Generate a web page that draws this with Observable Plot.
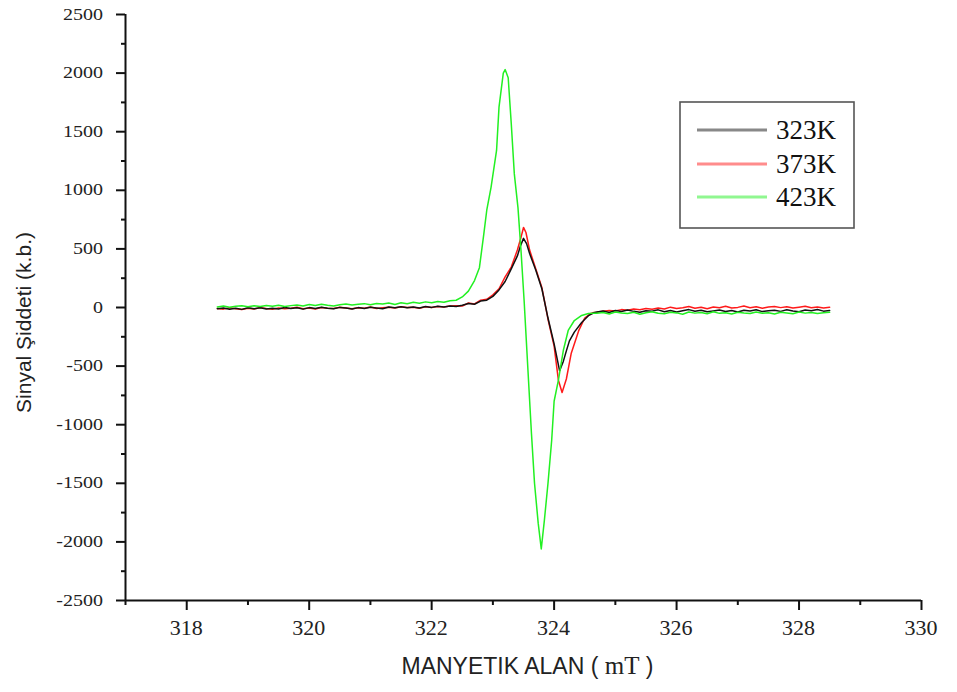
<!DOCTYPE html>
<html>
<head>
<meta charset="utf-8">
<script src="https://cdn.jsdelivr.net/npm/d3@7"></script>
<script src="https://cdn.jsdelivr.net/npm/@observablehq/plot@0.6"></script>
<style>
  body { margin: 0; background: #fff; }
  #chart { width: 957px; height: 692px; }
</style>
</head>
<body>
<div id="chart"></div>
<script>
// ESR spectra at three temperatures: signal intensity (a.u.) vs magnetic field (mT)
const seriesNames = ["323K", "373K", "423K"];
const seriesColors = ["#111111", "#ff1a1a", "#22f022"];

const xTicks = [318, 320, 322, 324, 326, 328, 330];
const xMinorTicks = [317, 319, 321, 323, 325, 327, 329];
const yTicks = [-2500, -2000, -1500, -1000, -500, 0, 500, 1000, 1500, 2000, 2500];
const yMinorTicks = [-2250, -1750, -1250, -750, -250, 250, 750, 1250, 1750, 2250];

// shared field samples of the flat regions either side of the resonance
const baseFieldLeft = [318.5, 318.6, 318.7, 318.8, 318.9, 319.0, 319.1, 319.2, 319.3, 319.4,
  319.5, 319.6, 319.7, 319.8, 319.9, 320.0, 320.1, 320.2, 320.3, 320.4,
  320.5, 320.6, 320.7, 320.8, 320.9, 321.0, 321.1, 321.2, 321.3, 321.4,
  321.5, 321.6, 321.7, 321.8, 321.9, 322.0, 322.1, 322.2, 322.3, 322.4];
const baseFieldRight = [324.7, 324.8, 324.9, 325.0, 325.1, 325.2, 325.3, 325.4, 325.5, 325.6,
  325.7, 325.8, 325.9, 326.0, 326.1, 326.2, 326.3, 326.4, 326.5, 326.6,
  326.7, 326.8, 326.9, 327.0, 327.1, 327.2, 327.3, 327.4, 327.5, 327.6,
  327.7, 327.8, 327.9, 328.0, 328.1, 328.2, 328.3, 328.4, 328.5];

// 323K
const left323 = [-10, -4, -14, -6, -16, -3, -11, -2, -13, -7, -12, 0, -9, -3, -14, -1, -8, 2, -6, -11,
  1, -5, -12, -1, -8, 3, -4, -10, 4, -2, 6, -3, 5, -5, 8, 1, 10, 4, 13, 9];
const peakField323 = [322.5, 322.6, 322.7, 322.8, 322.9, 323.0, 323.1, 323.2, 323.3, 323.4, 323.45, 323.5,
  323.55, 323.6, 323.7, 323.8, 323.9, 324.0, 324.09, 324.15, 324.2, 324.25, 324.33, 324.45, 324.56, 324.65];
const peakSignal323 = [20, 34, 28, 55, 62, 95, 150, 222, 330, 440, 525, 590,
  545, 460, 320, 160, -90, -310, -540, -460, -370, -285, -210, -128, -70, -45];
const right323 = [-38, -30, -42, -26, -35, -22, -33, -40, -27, -31, -20, -36, -25, -38, -28, -18, -32, -24, -37, -29,
  -21, -34, -26, -39, -23, -30, -19, -35, -27, -24, -33, -20, -29, -36, -22, -28, -17, -31, -25];

// 373K
const left373 = [-8, -14, -3, -10, -17, -6, -12, -1, -9, -15, -4, -11, -7, 2, -10, -5, -13, 0, -6, -9,
  3, -4, -11, -2, -7, 4, -8, -3, 2, -5, 6, -1, 3, -6, 7, 0, 9, 5, 12, 15];
const peakField373 = [322.5, 322.6, 322.7, 322.8, 322.9, 323.0, 323.1, 323.2, 323.3, 323.4, 323.46, 323.5,
  323.54, 323.6, 323.7, 323.8, 323.9, 324.0, 324.07, 324.13, 324.2, 324.28, 324.4, 324.5, 324.6, 324.65];
const peakSignal373 = [12, 38, 30, 62, 70, 108, 160, 262, 345, 490, 600, 683,
  640, 490, 330, 170, -100, -330, -620, -725, -610, -390, -200, -90, -50, -42];
const right373 = [-40, -32, -25, -30, -18, -24, -12, -20, -8, -15, -5, -12, 3, -9, -2, 8, -6, 2, -10, 5,
  -3, 10, -4, 1, 12, -2, 6, -7, 4, 9, -1, 7, -5, 3, 11, -2, 5, -4, 2];

// 423K
const left423 = [5, 12, 3, 10, 15, 6, 14, 9, 18, 11, 20, 8, 16, 22, 13, 25, 17, 28, 19, 12,
  24, 30, 21, 27, 33, 23, 35, 29, 38, 26, 40, 32, 44, 36, 48, 41, 52, 45, 58, 62];
const peakField423 = [322.5, 322.6, 322.7, 322.78, 322.85, 322.9, 322.97, 323.06, 323.1, 323.17, 323.2, 323.25,
  323.3, 323.35, 323.41, 323.46, 323.51, 323.57, 323.63, 323.68, 323.74, 323.79, 323.84, 323.9, 323.96,
  324.0, 324.07, 324.15, 324.23, 324.33, 324.45, 324.56, 324.65];
const peakSignal423 = [90, 140, 230, 340, 620, 830, 1025, 1340, 1710, 2000, 2030, 1960,
  1570, 1140, 850, 480, 60, -510, -1075, -1500, -1840, -2060, -1820, -1500, -1135,
  -800, -620, -367, -196, -111, -68, -52, -48];
const right423 = [-50, -42, -55, -38, -47, -52, -40, -58, -44, -36, -49, -53, -41, -46, -57, -39, -48, -43, -54, -37,
  -50, -45, -56, -40, -47, -52, -38, -49, -44, -55, -41, -46, -53, -39, -48, -42, -51, -45, -40];

const yLabel = "Sinyal Şiddeti (k.b.)";
const xLabel = "MANYETIK ALAN ( mT )";

function seriesRows(name, left, peakField, peakSignal, right) {
  const out = [];
  baseFieldLeft.forEach((f, i) => out.push({series: name, field: f, signal: left[i]}));
  peakField.forEach((f, i) => out.push({series: name, field: f, signal: peakSignal[i]}));
  baseFieldRight.forEach((f, i) => out.push({series: name, field: f, signal: right[i]}));
  return out;
}

// drawing order: 373K, 323K, then 423K on top
const rows = [
  ...seriesRows("373K", left373, peakField373, peakSignal373, right373),
  ...seriesRows("323K", left323, peakField323, peakSignal323, right323),
  ...seriesRows("423K", left423, peakField423, peakSignal423, right423)
];

const serif = "Liberation Serif, Times New Roman, serif";
const sans = "Liberation Sans, Arial, sans-serif";

const plot = Plot.plot({
  width: 957,
  height: 692,
  marginLeft: 125,
  marginRight: 36,
  marginTop: 14,
  marginBottom: 92,
  style: {background: "#fff", color: "#111", overflow: "visible"},
  x: {domain: [317, 330]},
  y: {domain: [-2500, 2500]},
  color: {domain: seriesNames, range: seriesColors},
  marks: [
    Plot.line(rows, {x: "field", y: "signal", z: "series", stroke: "series", strokeWidth: 1.5, curve: "linear"}),
    Plot.ruleX([317], {stroke: "#111", strokeWidth: 2}),
    Plot.ruleY([-2500], {stroke: "#111", strokeWidth: 2}),
    // tick marks; the labels are set in serif below
    Plot.axisX({ticks: xTicks, tickSize: 10, strokeWidth: 2, label: null, tickFormat: () => ""}),
    Plot.axisX({ticks: xMinorTicks, tickSize: 5, strokeWidth: 2, label: null, tickFormat: () => ""}),
    Plot.axisY({ticks: yTicks, tickSize: 9, strokeWidth: 2, label: null, tickFormat: () => ""}),
    Plot.axisY({ticks: yMinorTicks, tickSize: 4, strokeWidth: 2, label: null, tickFormat: () => ""}),
    // axis titles
    Plot.text([xLabel], {text: d => d, frameAnchor: "bottom", lineAnchor: "middle", textAnchor: "middle",
      dx: 4, dy: 66, fontSize: 23, fill: "#222"}),
    Plot.text([yLabel], {text: d => d, frameAnchor: "left", lineAnchor: "middle", textAnchor: "middle",
      rotate: -90, dx: -101, dy: 15, fontSize: 21, fill: "#222"})
  ]
});

const svg = d3.select(plot);
const xScale = plot.scale("x");
const yScale = plot.scale("y");

// serif tick labels placed with the plot's own scales
const tickLabels = svg.append("g").attr("class", "tick-labels")
  .attr("font-family", serif).attr("fill", "#222");
xTicks.forEach(v => {
  tickLabels.append("text")
    .attr("x", xScale.apply(v)).attr("y", 635)
    .attr("text-anchor", "middle").attr("font-size", 22)
    .text(String(v));
});
yTicks.forEach(v => {
  tickLabels.append("text")
    .attr("transform", `translate(103,${yScale.apply(v) + 5.5}) scale(1.25,1)`)
    .attr("text-anchor", "end").attr("font-size", 16)
    .text(String(v));
});

// unit "mT" in serif inside the x title
svg.selectAll("text").filter(function () { return this.textContent === xLabel; }).each(function () {
  const el = d3.select(this).attr("font-family", sans);
  el.text(null);
  el.append("tspan").text("MANYETIK ALAN ( ");
  el.append("tspan").attr("font-family", serif).attr("font-size", 25).text("mT");
  el.append("tspan").text(" )");
});
svg.selectAll("text").filter(function () { return this.textContent === yLabel; }).attr("font-family", sans);

// legend box
const legend = svg.append("g").attr("class", "legend");
legend.append("rect")
  .attr("x", 680).attr("y", 102).attr("width", 174).attr("height", 126)
  .attr("fill", "#fff").attr("stroke", "#555").attr("stroke-width", 1.6);
const legendY = [130, 164, 197];
seriesNames.forEach((name, i) => {
  legend.append("line")
    .attr("x1", 697).attr("x2", 767).attr("y1", legendY[i]).attr("y2", legendY[i])
    .attr("stroke", seriesColors[i]).attr("stroke-opacity", 0.5).attr("stroke-width", 3);
  legend.append("text")
    .attr("x", 776).attr("y", legendY[i] + 9)
    .attr("text-anchor", "start")
    .attr("font-family", serif).attr("font-size", 27).attr("fill", "#111")
    .text(name);
});

document.getElementById("chart").appendChild(plot);
</script>
</body>
</html>
